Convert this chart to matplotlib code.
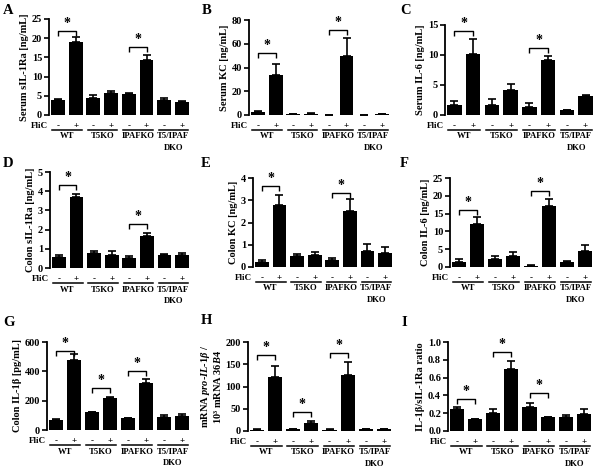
import matplotlib
matplotlib.use('Agg')
import matplotlib.pyplot as plt
from matplotlib.transforms import blended_transform_factory

plt.rcParams['font.family'] = ['Liberation Serif', 'DejaVu Serif']
plt.rcParams['font.weight'] = 'bold'
plt.rcParams['mathtext.fontset'] = 'custom'
plt.rcParams['mathtext.rm'] = 'Liberation Serif:bold'
plt.rcParams['mathtext.it'] = 'Liberation Serif:italic:bold'
plt.rcParams['mathtext.bf'] = 'Liberation Serif:bold'

W, H = 600, 472

groups = ['WT', 'T5KO', 'IPAFKO', 'T5/IPAF\nDKO']
flic_signs = ['-', '+', '-', '+', '-', '+', '-', '+']

# ---- data (bar order: WT-, WT+, T5KO-, T5KO+, IPAFKO-, IPAFKO+, DKO-, DKO+) ----
A_mean = [3.9, 19.0, 4.3, 5.6, 5.4, 14.3, 4.0, 3.5]
A_err = [0.2, 1.2, 0.8, 0.6, 0.3, 1.2, 0.3, 0.2]
A_ticks = [0, 5, 10, 15, 20, 25]
A_sig = [(0, 1, 22.0), (4, 5, 17.6)]

B_mean = [2.5, 34.0, 0.5, 1.0, 0.3, 50.0, 0.3, 0.8]
B_err = [1.2, 9.0, 0.2, 0.3, 0.1, 15.0, 0.1, 0.3]
B_ticks = [0, 20, 40, 60, 80]
B_sig = [(0, 1, 52.0), (4, 5, 71.5)]

C_mean = [1.7, 10.2, 1.7, 4.1, 1.4, 9.1, 0.8, 3.1]
C_err = [0.6, 2.5, 1.0, 1.1, 0.6, 0.8, 0.05, 0.3]
C_ticks = [0, 5, 10, 15]
C_sig = [(0, 1, 14.0), (4, 5, 11.1)]

D_mean = [0.55, 3.7, 0.78, 0.68, 0.52, 1.65, 0.67, 0.67]
D_err = [0.13, 0.13, 0.1, 0.2, 0.13, 0.15, 0.05, 0.13]
D_ticks = [0, 1, 2, 3, 4, 5]
D_sig = [(0, 1, 4.34), (4, 5, 2.27)]

E_mean = [0.22, 2.8, 0.48, 0.52, 0.3, 2.5, 0.72, 0.62]
E_err = [0.08, 0.45, 0.1, 0.15, 0.12, 0.55, 0.33, 0.28]
E_ticks = [0, 1, 2, 3, 4]
E_sig = [(0, 1, 3.63), (4, 5, 3.33)]

F_mean = [1.5, 12.0, 2.2, 3.2, 0.4, 17.0, 1.5, 4.4]
F_err = [0.8, 2.0, 1.0, 1.0, 0.05, 2.2, 0.1, 1.8]
F_ticks = [0, 5, 10, 15, 20, 25]
F_sig = [(0, 1, 16.1), (4, 5, 21.3)]

G_mean = [70, 480, 120, 220, 80, 320, 90, 97]
G_err = [3, 35, 3, 8, 3, 25, 12, 12]
G_ticks = [0, 200, 400, 600]
G_sig = [(0, 1, 540), (2, 3, 283), (4, 5, 405)]

Hm_mean = [3, 122, 4, 19, 3, 125, 4, 5]
Hm_err = [0.5, 25, 0.5, 4, 0.5, 30, 0.5, 0.5]
Hm_ticks = [0, 50, 100, 150, 200]
Hm_sig = [(0, 1, 170), (2, 3, 42.7), (4, 5, 175)]

I_mean = [0.245, 0.13, 0.205, 0.70, 0.275, 0.155, 0.155, 0.195]
I_err = [0.02, 0.005, 0.045, 0.09, 0.04, 0.005, 0.025, 0.05]
I_ticks = [0.0, 0.2, 0.4, 0.6, 0.8, 1.0]
I_tick_labels = ['0.0', '0.2', '0.4', '0.6', '0.8', '1.0']
I_sig = [(0, 1, 0.363), (2, 3, 0.888), (4, 5, 0.427)]

ylabels = {
    'A': 'Serum sIL-1Ra [ng/mL]',
    'B': 'Serum KC [ng/mL]',
    'C': 'Serum IL-6 [ng/mL]',
    'D': 'Colon sIL-1Ra [ng/mL]',
    'E': 'Colon KC [ng/mL]',
    'F': 'Colon IL-6 [ng/mL]',
    'G': 'Colon IL-1β [pg/mL]',
    'H': 'mRNA $\\mathit{pro}$-$\\mathit{IL}$-$\\mathit{1\\beta}$ /\n10³ mRNA $\\mathit{36B4}$',
    'I': 'IL-1β/sIL-1Ra ratio',
}

fig = plt.figure(figsize=(W / 100, H / 100), dpi=100)


def panel(letter, rect_px, letter_xy, means, errs, ticks, sig, tick_labels=None):
    x0, x1, ytop, ybot = rect_px
    hpx = ybot - ytop
    ax = fig.add_axes([x0 / W, 1 - ybot / H, (x1 - x0) / W, hpx / H])
    xs = list(range(len(means)))
    ax.bar(xs, means, width=0.78, color='black', zorder=2)
    ax.errorbar(xs, means, yerr=[[0] * len(errs), errs], fmt='none',
                ecolor='black', elinewidth=1.2, capsize=2.6, capthick=1.2, zorder=1)
    ymax = ticks[-1]
    ax.set_ylim(0, ymax)
    ax.set_xlim(-0.5, 7.45)
    ax.set_yticks(ticks)
    if tick_labels is not None:
        ax.set_yticklabels(tick_labels)
    ax.tick_params(axis='y', direction='out', length=3.5, width=1.2,
                   labelsize=7.5, pad=1.5)
    ax.set_xticks([])
    for s in ['top', 'right', 'bottom']:
        ax.spines[s].set_visible(False)
    ax.spines['left'].set_linewidth(1.3)
    ax.set_ylabel(ylabels[letter], fontsize=7.5, fontweight='bold', labelpad=2,
                  linespacing=1.0)
    # significance brackets
    leg = ymax * 5.0 / hpx
    for i, j, y in sig:
        ax.plot([i, i, j, j], [y - leg, y, y, y - leg], color='black', lw=1.0,
                clip_on=False, solid_capstyle='butt')
        ax.text((i + j) / 2, y + ymax * 1.0 / hpx, '*', ha='center', va='bottom',
                fontsize=10, fontweight='bold')
    # FliC row, underlines and group labels
    tr = blended_transform_factory(ax.transData, ax.transAxes)

    def yax(dy):
        return -dy / hpx

    ax.text(-0.55, yax(11), 'FliC', transform=tr, ha='right', va='center',
            fontsize=6.5, fontweight='bold')
    for k, s in enumerate(flic_signs):
        ax.text(k, yax(11), s, transform=tr, ha='center', va='center',
                fontsize=6.5, fontweight='bold')
    for g, name in enumerate(groups):
        a, b = 2 * g - 0.32, 2 * g + 1.36
        ax.plot([a, b], [yax(15), yax(15)], transform=tr, color='black', lw=1.1,
                clip_on=False)
        ax.text(2 * g + 0.5, yax(17.5), name, transform=tr, ha='center', va='top',
                fontsize=6.2, fontweight='bold', linespacing=1.6)
    fig.text(letter_xy[0] / W, 1 - letter_xy[1] / H, letter, ha='left', va='center',
             fontsize=10.5, fontweight='bold')
    return ax


panel('A', (49, 190, 19, 115), (3, 11), A_mean, A_err, A_ticks, A_sig)
panel('B', (249, 390, 20, 115), (202, 10), B_mean, B_err, B_ticks, B_sig)
panel('C', (445, 594, 25, 115), (400, 10), C_mean, C_err, C_ticks, C_sig)
panel('D', (50, 190, 172, 268), (3, 163), D_mean, D_err, D_ticks, D_sig)
panel('E', (253, 393, 178, 267), (201, 163), E_mean, E_err, E_ticks, E_sig)
panel('F', (450, 593, 178, 267), (400, 163), F_mean, F_err, F_ticks, F_sig)
panel('G', (47, 190, 342, 430), (3, 322), G_mean, G_err, G_ticks, G_sig)
panel('H', (248, 392, 342, 431), (201, 320), Hm_mean, Hm_err, Hm_ticks, Hm_sig)
panel('I', (448, 592, 342, 431), (401, 323), I_mean, I_err, I_ticks, I_sig,
      tick_labels=I_tick_labels)

fig.savefig('out.png', dpi=100)
